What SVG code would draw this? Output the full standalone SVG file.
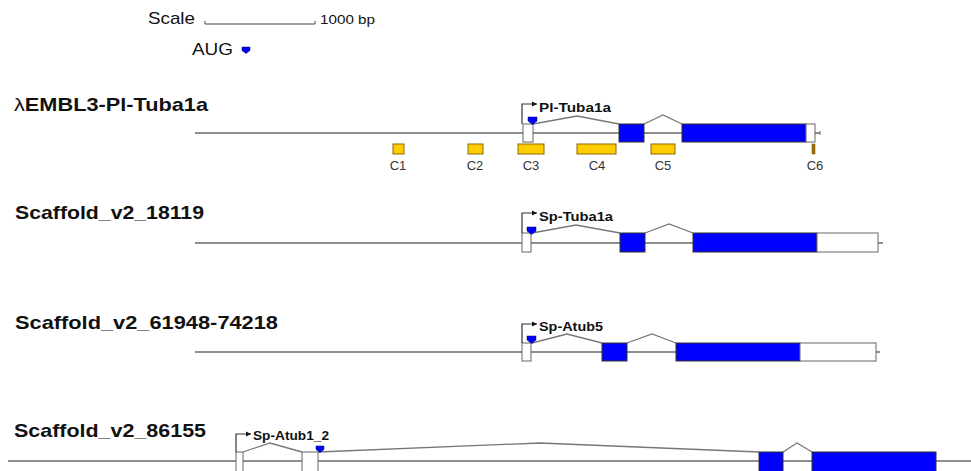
<svg xmlns="http://www.w3.org/2000/svg" width="971" height="471" viewBox="0 0 971 471">
<style>
text{font-family:"Liberation Sans",Arial,sans-serif;fill:#111}
.track{font-size:19px;font-weight:bold}
.gene{font-size:13px;font-weight:bold}
.cl{font-size:13px;text-anchor:middle;fill:#333}
.ln{stroke:#6a6a6a;stroke-width:1.5;fill:none}
.intr{stroke:#777;stroke-width:1.3;fill:none}
.utr{fill:#fff;stroke:#666;stroke-width:1}
.cds{fill:#0000ff;stroke:#333;stroke-width:1}
.aug{fill:#0000ff;stroke:#000066;stroke-width:0.5}
.cons{fill:#ffcc00;stroke:#8a6a00;stroke-width:1}
.arr{stroke:#333;stroke-width:1.2;fill:none}
</style>
<defs>
<marker id="ah" markerWidth="6" markerHeight="6" refX="5" refY="3" orient="auto" markerUnits="userSpaceOnUse">
<path d="M0,0.5 L5,3 L0,5.5 z" fill="#111"/>
</marker>
</defs>

<g id="legend">
<text x="148" y="24" style="font-size:17px" textLength="47" lengthAdjust="spacingAndGlyphs">Scale</text>
<path d="M205,21 V24 H315 V21" stroke="#444" stroke-width="1" fill="none"/>
<text x="320" y="24" style="font-size:12px" textLength="55" lengthAdjust="spacingAndGlyphs">1000 bp</text>
<text x="192" y="55" style="font-size:17px" textLength="41" lengthAdjust="spacingAndGlyphs">AUG</text>
<path class="aug" d="M242,47 h8 v3.5 l-4,3 l-4,-3 z"/>
</g>

<g id="track1">
<text class="track" x="14" y="111" textLength="194" lengthAdjust="spacingAndGlyphs"><tspan font-weight="normal">λ</tspan>EMBL3-Pl-Tuba1a</text>
<line class="ln" x1="195" y1="133" x2="820" y2="133"/>
<line x1="820" y1="131" x2="820" y2="135" stroke="#666"/>
<path class="intr" d="M533,124 L577,116 L619,124"/>
<path class="intr" d="M644,124 L663,115 L682,124"/>
<rect class="utr" x="523" y="124" width="10" height="18"/>
<rect class="cds" x="619" y="124" width="25" height="18"/>
<rect class="cds" x="682" y="124" width="124" height="18"/>
<rect class="utr" x="806" y="124" width="9" height="18"/>
<path class="aug" d="M528,117 h9 v4 l-4.5,3.5 l-4.5,-3.5 z"/>
<path class="arr" d="M522,124 V104 H537" marker-end="url(#ah)"/>
<text class="gene" x="539" y="112" textLength="72" lengthAdjust="spacingAndGlyphs">Pl-Tuba1a</text>
<rect class="cons" x="393" y="144" width="11" height="10"/>
<rect class="cons" x="468" y="144" width="15" height="10"/>
<rect class="cons" x="518" y="144" width="26" height="10"/>
<rect class="cons" x="577" y="144" width="39" height="10"/>
<rect class="cons" x="651" y="144" width="24" height="10"/>
<rect x="812" y="144" width="3" height="10" fill="#a07000" stroke="#6a4a00" stroke-width="0.5"/>
<text class="cl" x="398" y="170">C1</text>
<text class="cl" x="475" y="170">C2</text>
<text class="cl" x="531" y="170">C3</text>
<text class="cl" x="597" y="170">C4</text>
<text class="cl" x="663" y="170">C5</text>
<text class="cl" x="815" y="170">C6</text>
</g>

<g id="track2">
<text class="track" x="15" y="219" textLength="189" lengthAdjust="spacingAndGlyphs">Scaffold_v2_18119</text>
<line class="ln" x1="195" y1="243" x2="883" y2="243"/>
<path class="intr" d="M532,233 L576,225 L620,233"/>
<path class="intr" d="M645,233 L669,224 L693,233"/>
<rect class="utr" x="522" y="233" width="9" height="19"/>
<rect class="cds" x="620" y="233" width="25" height="19"/>
<rect class="cds" x="693" y="233" width="124" height="19"/>
<rect class="utr" x="817" y="233" width="61" height="19"/>
<path class="aug" d="M527,227 h9 v4 l-4.5,3.5 l-4.5,-3.5 z"/>
<path class="arr" d="M522,233 V213 H537" marker-end="url(#ah)"/>
<text class="gene" x="539" y="221" textLength="74" lengthAdjust="spacingAndGlyphs">Sp-Tuba1a</text>
</g>

<g id="track3">
<text class="track" x="15" y="329" textLength="263" lengthAdjust="spacingAndGlyphs">Scaffold_v2_61948-74218</text>
<line class="ln" x1="195" y1="352" x2="880" y2="352"/>
<path class="intr" d="M532,343 L567,334 L602,343"/>
<path class="intr" d="M627,343 L652,334 L676,343"/>
<rect class="utr" x="522" y="343" width="9" height="18"/>
<rect class="cds" x="602" y="343" width="25" height="18"/>
<rect class="cds" x="676" y="343" width="124" height="18"/>
<rect class="utr" x="800" y="343" width="76" height="18"/>
<path class="aug" d="M527,336 h9 v4 l-4.5,3.5 l-4.5,-3.5 z"/>
<path class="arr" d="M522,343 V324 H537" marker-end="url(#ah)"/>
<text class="gene" x="539" y="331" textLength="64" lengthAdjust="spacingAndGlyphs">Sp-Atub5</text>
</g>

<g id="track4">
<text class="track" x="14" y="437" textLength="192" lengthAdjust="spacingAndGlyphs">Scaffold_v2_86155</text>
<line class="ln" x1="8" y1="461" x2="971" y2="461"/>
<path class="intr" d="M243,452 L270,443 L302,452"/>
<path class="intr" d="M318,452 L540,443 L759,452"/>
<path class="intr" d="M783,452 L797,443 L812,452"/>
<rect class="utr" x="236" y="452" width="7" height="20"/>
<rect class="utr" x="302" y="452" width="16" height="20"/>
<rect class="cds" x="759" y="452" width="24" height="20"/>
<rect class="cds" x="812" y="452" width="124" height="20"/>
<path class="aug" d="M316,446 h8 v3.5 l-4,3 l-4,-3 z"/>
<path class="arr" d="M236,452 V434 H251" marker-end="url(#ah)"/>
<text class="gene" x="253" y="440" textLength="76" lengthAdjust="spacingAndGlyphs">Sp-Atub1_2</text>
</g>
</svg>
